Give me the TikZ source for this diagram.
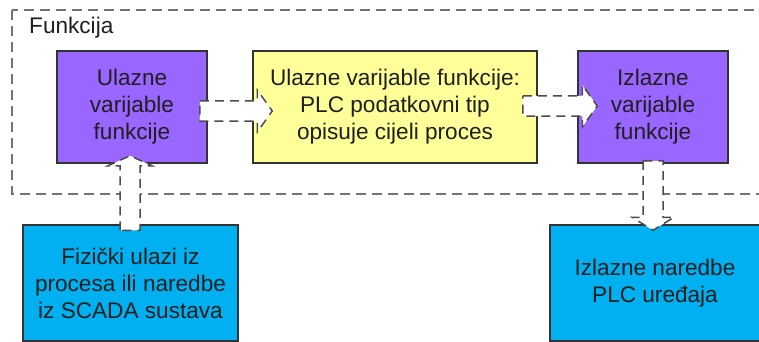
\documentclass[tikz,border=0pt]{standalone}
\usepackage{fontspec}
\setmainfont{Liberation Sans}
\usetikzlibrary{calc}
\definecolor{pviolet}{HTML}{9966FF}
\definecolor{pyellow}{HTML}{FFFF99}
\definecolor{pblue}{HTML}{00B0F0}
\tikzset{
  txt/.style={font=\fontsize{22.6}{27}\selectfont, text=black!88},
  box/.style={txt, draw=black!80, line width=1.5pt, align=center, inner sep=0pt},
  vbox/.style={box, fill=pviolet, minimum width=150pt, minimum height=112pt},
  ybox/.style={box, fill=pyellow, minimum width=284pt, minimum height=112pt},
  bbox/.style={box, fill=pblue, minimum height=116pt},
  frame/.style={draw=black!55, line width=1.9pt, dash pattern=on 10pt off 6pt},
  barrow/.style={draw=black!70, fill=white, line width=1.5pt, dash pattern=on 9pt off 6pt, line join=miter},
}
\begin{document}
\begin{tikzpicture}[x=1pt,y=-1pt]
\useasboundingbox (0,0) rectangle (759,342);
\clip (0,0) rectangle (759,342);
\fill[white] (0,0) rectangle (759,342);
% outer dashed frame
\draw[frame] (12,10) rectangle (775,194);
\node[txt, anchor=west, inner sep=0pt] (lab) at (29,28) {Funkcija};
% boxes
\node[vbox] (u1) at (132,107) {Ulazne\\varijable\\funkcije};
\node[ybox] (mid) at (395,107) {Ulazne varijable funkcije:\\PLC podatkovni tip\\opisuje cijeli proces};
\node[vbox] (o1) at (653,107) {Izlazne\\varijable\\funkcije};
\node[bbox, minimum width=215pt] (b1) at (130.5,283) {Fizički ulazi iz\\procesa ili naredbe\\iz SCADA sustava};
\node[bbox, minimum width=222pt] (b2) at (661,283) {};
\node[txt, align=center, inner sep=0pt] (b2t) at (655,283) {Izlazne naredbe\\PLC uređaja};
% arrow end points
\coordinate (a1t) at ($(u1.east)+(-8,4)$);
\coordinate (a1h) at ($(mid.west)+(20,4)$);
\coordinate (a2t) at ($(mid.east)+(-15,-1)$);
\coordinate (a2h) at ($(o1.west)+(20,-1)$);
\coordinate (a3t) at ($(b1.north)+(-0.5,6)$);
\coordinate (a3h) at ($(u1.south)+(-2,-8)$);
\coordinate (a4t) at ($(o1.south)+(0,-3)$);
\coordinate (a4h) at ($(b2.north)+(-8,6)$);
% horizontal block arrows (left to right)
\foreach \s/\e in {a1t/a1h, a2t/a2h}{
  \draw[barrow] let \p1=(\s), \p2=(\e) in
    (\x1,\y1+10pt) -- (\x2-15pt,\y1+10pt) -- (\x2-15pt,\y1+21pt) -- (\x2,\y1)
    -- (\x2-15pt,\y1-21pt) -- (\x2-15pt,\y1-10pt) -- (\x1,\y1-10pt) -- cycle;
}
% upward block arrow
\draw[barrow] let \p1=(a3t), \p2=(a3h) in
  (\x1-10pt,\y1) -- (\x1-10pt,\y2-10pt) -- (\x1-22pt,\y2-10pt) -- (\x1,\y2)
  -- (\x1+22pt,\y2-10pt) -- (\x1+10pt,\y2-10pt) -- (\x1+10pt,\y1) -- cycle;
% downward block arrow
\draw[barrow] let \p1=(a4t), \p2=(a4h) in
  (\x1-10pt,\y1) -- (\x1-10pt,\y2+13pt) -- (\x1-21pt,\y2+13pt) -- (\x1,\y2)
  -- (\x1+21pt,\y2+13pt) -- (\x1+10pt,\y2+13pt) -- (\x1+10pt,\y1) -- cycle;
\end{tikzpicture}
\end{document}
